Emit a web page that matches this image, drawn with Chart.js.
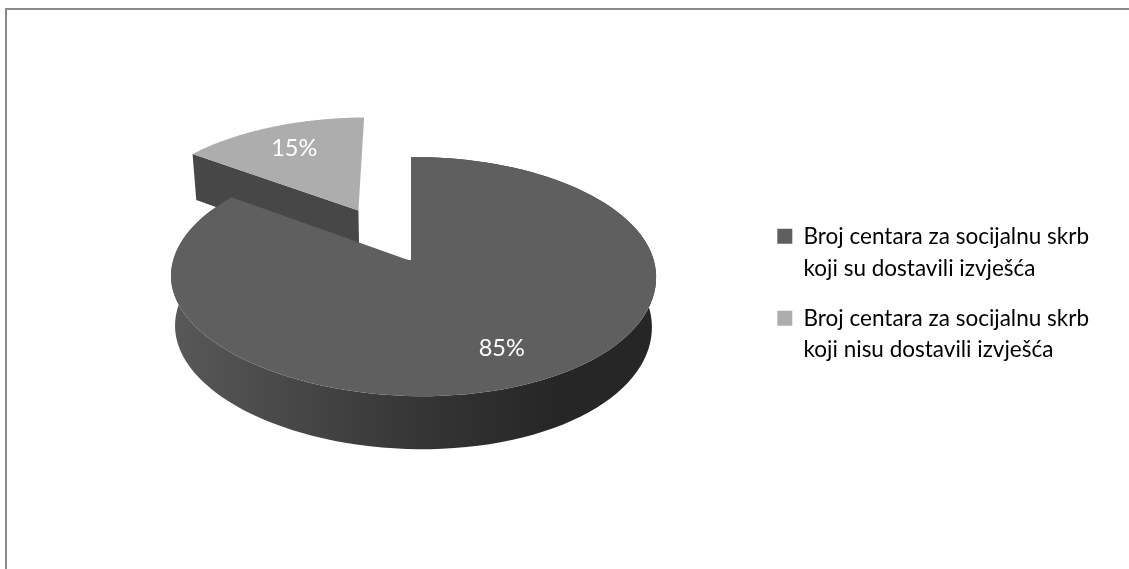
<!DOCTYPE html>
<html>
<head>
<meta charset="utf-8">
<script src="https://cdn.jsdelivr.net/npm/chart.js@4/dist/chart.umd.min.js"></script>
<style>
  html, body { margin: 0; padding: 0; background: #fff; }
  #okvir { position: absolute; left: 5px; top: 8px; right: 0; bottom: 0;
           border-left: 2px solid #8a8a8a; border-top: 2px solid #8a8a8a; }
  #graf { position: absolute; left: 0; top: 0; }
</style>
</head>
<body>
<div id="okvir"></div>
<canvas id="graf" width="1129" height="569"></canvas>
<script>
  // --- Podaci ---
  const kategorije = [
    ["Broj centara za socijalnu skrb", "koji su dostavili izvješća"],
    ["Broj centara za socijalnu skrb", "koji nisu dostavili izvješća"]
  ];
  const postoci = [85, 15];
  const boje = ["#5f5f5f", "#adadad"];
  const izdvojeno = [0, 123]; // offset kriske u px

  // --- 3D izgled ---
  const RADIJUS = 240.5, VISINA_Y = 117.5, PERSP = 0.13, PERSP_X = 0.0103, NAGIB = 5;
  const CENTAR_X = 411, CENTAR_Y = 261;

  // krug -> ekran (projekcija), u i v su u jedinicama radijusa
  const projekcija = (u, v) => {
    const w = 1 - PERSP * v - PERSP_X * u;
    return {
      x: CENTAR_X + RADIJUS * u / w,
      y: CENTAR_Y + VISINA_Y * v / w + NAGIB * u * Math.max(v, 0)
    };
  };
  const dno = (p, v) => ({
    x: CENTAR_X + (p.x - CENTAR_X) * 0.983,
    y: p.y + 49.5 + 3.5 * v
  });

  const pie3d = {
    id: "pie3d",
    beforeDatasetsDraw(chart) {
      const ctx = chart.ctx;
      const kriske = chart.getDatasetMeta(0).data.map((arc, i) => {
        const sred = (arc.startAngle + arc.endAngle) / 2;
        const d = arc.options.offset / arc.outerRadius;
        const pomakU = Math.cos(sred) * d, pomakV = Math.sin(sred) * d;
        const tocke = [];
        for (let k = 0; k <= 120; k++) {
          const a = arc.startAngle + (arc.endAngle - arc.startAngle) * k / 120;
          const v = Math.sin(a) + pomakV;
          const p = projekcija(Math.cos(a) + pomakU, v);
          tocke.push({ p, b: dno(p, v) });
        }
        const vrh = projekcija(pomakU, pomakV);
        return { arc, i, sred, d, pomakU, pomakV, tocke, vrh, vrhDno: dno(vrh, pomakV) };
      });

      const poligon = (pts, fill) => {
        ctx.beginPath();
        pts.forEach((p, n) => n ? ctx.lineTo(p.x, p.y) : ctx.moveTo(p.x, p.y));
        ctx.closePath();
        ctx.fillStyle = fill;
        ctx.fill();
      };

      // prvo izdvojena kriska (iza), pa glavna
      [kriske[1], kriske[0]].forEach(k => {
        const prvi = k.tocke[0], zadnji = k.tocke[k.tocke.length - 1];
        if (k.i === 1) {
          // bocna stijenka kriske prema gledatelju
          poligon([k.vrh, prvi.p, prvi.b, k.vrhDno], "#474747");
        } else {
          const grad = ctx.createLinearGradient(175, 0, 652, 0);
          grad.addColorStop(0, "#585858");
          grad.addColorStop(0.5, "#363636");
          grad.addColorStop(0.8, "#262626");
          grad.addColorStop(1, "#262626");
          const rub = k.tocke.map(t => t.p).concat(k.tocke.map(t => t.b).reverse());
          poligon(rub, grad);
          // tanka tamna crta u procjepu
          ctx.strokeStyle = "#2e2e2e";
          ctx.lineWidth = 1.2;
          ctx.beginPath();
          ctx.moveTo(k.vrh.x + 0.3, k.vrh.y);
          ctx.lineTo(zadnji.p.x, zadnji.p.y + 35);
          ctx.stroke();
        }
        poligon([k.vrh].concat(k.tocke.map(t => t.p)), k.arc.options.backgroundColor);
      });

      // oznake postotaka
      ctx.fillStyle = "#ffffff";
      ctx.font = "23.5px Lato";
      ctx.textAlign = "center";
      ctx.textBaseline = "middle";
      kriske.forEach(k => {
        const u = Math.cos(k.sred) * 0.74 + k.pomakU;
        const v = Math.sin(k.sred) * 0.74 + k.pomakV;
        const p = projekcija(u, v);
        ctx.fillText(postoci[k.i] + "%", p.x + 2, p.y + 1);
      });
      return false;
    }
  };

  new Chart(document.getElementById("graf"), {
    type: "pie",
    data: {
      labels: kategorije,
      datasets: [{ data: postoci, backgroundColor: boje, borderWidth: 0, offset: izdvojeno }]
    },
    options: {
      responsive: false,
      animation: false,
      radius: RADIJUS,
      layout: { padding: { top: 27, right: 30 } },
      plugins: {
        tooltip: { enabled: false },
        legend: {
          position: "right",
          labels: {
            boxWidth: 15,
            boxHeight: 15,
            padding: 18,
            color: "#000000",
            font: { family: "Lato", size: 22.5, lineHeight: 1.42 }
          }
        }
      }
    },
    plugins: [pie3d]
  });
</script>
</body>
</html>
